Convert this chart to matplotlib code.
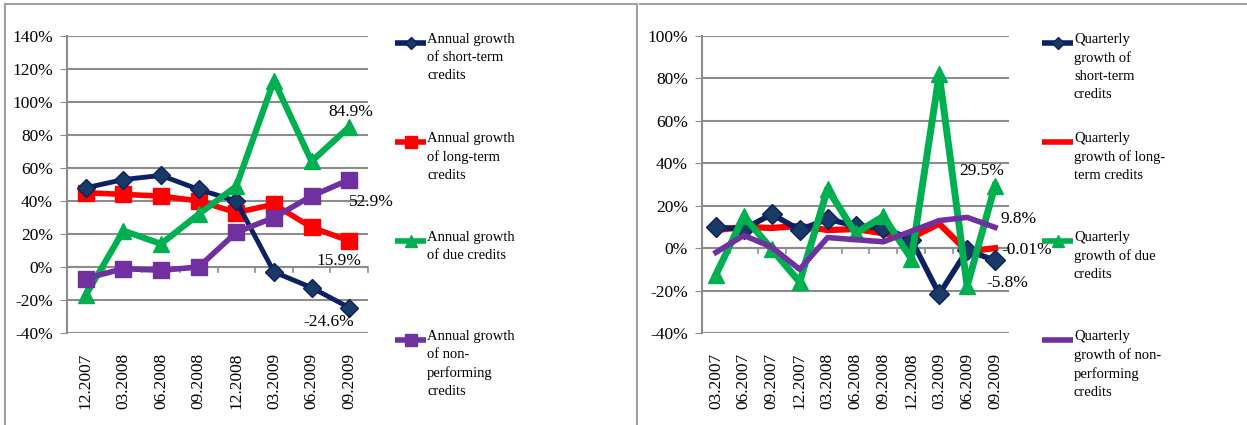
import matplotlib.pyplot as plt
from matplotlib.lines import Line2D

plt.rcParams['font.family'] = ['Liberation Serif', 'DejaVu Serif']

# annual growth rates, %
annual_dates = ['12.2007', '03.2008', '06.2008', '09.2008', '12.2008', '03.2009', '06.2009', '09.2009']
annual_short = [48, 53, 55.5, 47, 40, -3, -12.5, -24.6]
annual_long = [45, 44, 43, 40, 33, 38, 24, 15.9]
annual_due = [-17, 22, 14, 32, 49, 113, 64, 84.9]
annual_npl = [-7, -1, -2, 0, 21, 30, 43, 52.9]

# quarterly growth rates, %
quarter_dates = ['03.2007', '06.2007', '09.2007', '12.2007', '03.2008', '06.2008',
                 '09.2008', '12.2008', '03.2009', '06.2009', '09.2009']
quarter_short = [9.8, 9, 16, 8.6, 13.7, 10.5, 9.7, 4, -21.7, -1, -5.8]
quarter_long = [8.5, 10, 9.5, 10.5, 8.5, 9, 7, 5, 11.5, -1.5, -0.01]
quarter_due = [-12.5, 15, -0.5, -16, 28, 7, 15, -5, 82, -18, 29.5]
quarter_npl = [-2, 6, 0.5, -10, 5, 4, 3, 8, 13, 14.5, 9.8]

annual_labels = ['Annual growth\nof short-term\ncredits', 'Annual growth\nof long-term\ncredits',
                 'Annual growth\nof due credits', 'Annual growth\nof non-\nperforming\ncredits']
quarter_labels = ['Quarterly\ngrowth of\nshort-term\ncredits', 'Quarterly\ngrowth of long-\nterm credits',
                  'Quarterly\ngrowth of due\ncredits', 'Quarterly\ngrowth of non-\nperforming\ncredits']

NAVY = '#0c2162'
NAVY_FILL = '#1a3a66'
RED = '#ff0000'
GREEN = '#00b050'
PURPLE = '#7030a0'
GRID = '#8c8c8c'

W, H = 1247, 425
fig = plt.figure(figsize=(W / 100, H / 100), dpi=100)


def fx(x):
    return x / W


def fy(y):
    return 1 - y / H


def setup(ax, cats, ymin, ymax):
    n = len(cats)
    ax.set_xlim(-0.5, n - 0.5)
    ax.set_ylim(ymin, ymax)
    ax.set_yticks(range(ymin, ymax + 1, 20))
    ax.set_yticklabels(['%d%%' % v for v in range(ymin, ymax + 1, 20)])
    ax.yaxis.grid(True, color=GRID, lw=1.5)
    ax.set_axisbelow(True)
    for s in ['top', 'right', 'bottom']:
        ax.spines[s].set_visible(False)
    ax.spines['left'].set_color(GRID)
    ax.spines['left'].set_linewidth(1.5)
    ax.tick_params(axis='y', length=5, color=GRID, labelsize=12.5, pad=5)
    ax.set_xticks(range(n))
    ax.set_xticklabels(cats, rotation=90, fontsize=12.5)
    ax.tick_params(axis='x', length=0, pad=14)
    # category axis drawn along zero with tick marks between categories
    ax.axhline(0, color=GRID, lw=1.5, zorder=1)
    for b in range(1, n + 1):
        ax.plot([b - 0.5, b - 0.5], [0, -(ymax - ymin) * 0.018], color=GRID, lw=1.2,
                clip_on=False, zorder=1)


def legend(entries, x0, x1, tx, ys):
    for (color, marker, ms, mfc, label), y in zip(entries, ys):
        fig.add_artist(Line2D([fx(x0), fx(x1)], [fy(y), fy(y)], color=color, lw=4,
                              solid_capstyle='butt'))
        if marker:
            fig.add_artist(Line2D([fx((x0 + x1) / 2)], [fy(y)], marker=marker, ms=ms,
                                  color=color, mfc=mfc, mec=color))
        fig.text(fx(tx), fy(y - 10), label, fontsize=10.5, va='top', ha='left',
                 linespacing=1.5)


# left panel: annual growth
ax1 = fig.add_axes([fx(67), fy(333), fx(368) - fx(67), fy(36) - fy(333)])
setup(ax1, annual_dates, -40, 140)
xa = range(len(annual_dates))
ax1.plot(xa, annual_short, color=NAVY, lw=3.5, marker='D', ms=9, mfc=NAVY_FILL, mec=NAVY, zorder=5)
ax1.plot(xa, annual_long, color=RED, lw=4, marker='s', ms=11, zorder=4)
ax1.plot(xa, annual_due, color=GREEN, lw=4.5, marker='^', ms=12, zorder=6)
ax1.plot(xa, annual_npl, color=PURPLE, lw=4, marker='s', ms=11, zorder=7)

last = len(annual_dates) - 1
for vals, off in [(annual_due, (2, 15)), (annual_npl, (22, -22)),
                  (annual_long, (-10, -20)), (annual_short, (-20, -14))]:
    ax1.annotate('%.1f%%' % vals[last], (last, vals[last]), xytext=off,
                 textcoords='offset pixels', ha='center', va='center', fontsize=12.5, zorder=10)

legend([(NAVY, 'D', 6, NAVY_FILL, annual_labels[0]),
        (RED, 's', 9, RED, annual_labels[1]),
        (GREEN, '^', 9, GREEN, annual_labels[2]),
        (PURPLE, 's', 9, PURPLE, annual_labels[3])],
       395, 426, 427, [43, 142, 241, 340])

# right panel: quarterly growth
ax2 = fig.add_axes([fx(702), fy(333), fx(1009) - fx(702), fy(36) - fy(333)])
setup(ax2, quarter_dates, -40, 100)
xq = range(len(quarter_dates))
ax2.plot(xq, quarter_short, color=NAVY, lw=4, marker='D', ms=10, mfc=NAVY_FILL, mec=NAVY, zorder=5)
ax2.plot(xq, quarter_long, color=RED, lw=4.5, zorder=4)
ax2.plot(xq, quarter_due, color=GREEN, lw=5, marker='^', ms=12, zorder=6)
ax2.plot(xq, quarter_npl, color=PURPLE, lw=4, zorder=7)

last = len(quarter_dates) - 1
for vals, txt, off in [(quarter_due, '29.5%', (-13, 15)), (quarter_npl, '9.8%', (24, 8)),
                       (quarter_long, '-0.01%', (32, -2)), (quarter_short, '-5.8%', (12, -23))]:
    ax2.annotate(txt, (last, vals[last]), xytext=off, textcoords='offset pixels',
                 ha='center', va='center', fontsize=12.5, zorder=10)

legend([(NAVY, 'D', 6, NAVY_FILL, quarter_labels[0]),
        (RED, None, 0, RED, quarter_labels[1]),
        (GREEN, '^', 9, GREEN, quarter_labels[2]),
        (PURPLE, None, 0, PURPLE, quarter_labels[3])],
       1042, 1073, 1074, [43, 142, 241, 340])

# panel frames
frame = dict(color='#a0a0a0', lw=1.5)
fig.add_artist(Line2D([fx(5), fx(5)], [fy(4), 0], **frame))
fig.add_artist(Line2D([fx(5), fx(637)], [fy(4), fy(4)], **frame))
fig.add_artist(Line2D([fx(637), fx(637)], [fy(4), 0], **frame))
fig.add_artist(Line2D([fx(640), 1], [fy(4), fy(4)], **frame))

fig.savefig('out.png', dpi=100)
